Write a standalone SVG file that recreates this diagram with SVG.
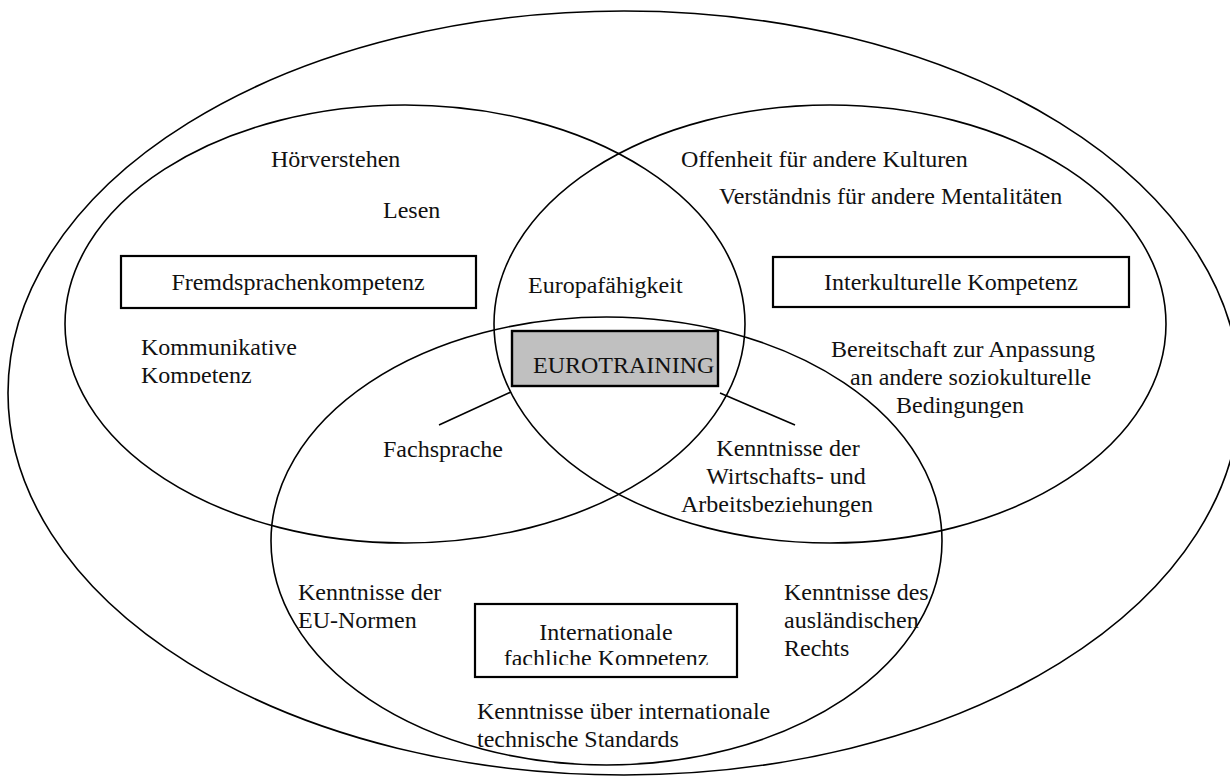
<svg xmlns="http://www.w3.org/2000/svg" width="1230" height="776" viewBox="0 0 1230 776">
<style>
.e{fill:none;stroke:#000;stroke-width:1.6}
.b{fill:#fff;stroke:#000;stroke-width:2.2}
.g{fill:#c0c0c0;stroke:#000;stroke-width:2.4}
text{font-family:"Liberation Serif","Times New Roman",serif;font-size:24px;fill:#111}
.c{text-anchor:middle}
.l{stroke:#000;stroke-width:1.6}
</style>
<defs>
<clipPath id="clipK"><rect x="100" y="330" width="250" height="53"/></clipPath>
<clipPath id="clipI"><rect x="476" y="605" width="260" height="60"/></clipPath>
</defs>
<rect width="1230" height="776" fill="#fff"/>
<g id="outer"><ellipse class="e" cx="624" cy="393" rx="616" ry="382"/></g>
<g id="fremdsprachen">
<ellipse class="e" cx="405" cy="324" rx="340" ry="219"/>
<text x="271" y="167">Hörverstehen</text>
<text x="383" y="218">Lesen</text>
<rect class="b" x="121" y="256" width="355" height="52"/>
<text class="c" x="298" y="290">Fremdsprachenkompetenz</text>
<g clip-path="url(#clipK)"><text x="141" y="355">Kommunikative</text><text x="141" y="383">Kompetenz</text></g>
</g>
<g id="interkulturell">
<ellipse class="e" cx="830" cy="324" rx="336" ry="219"/>
<text x="681" y="167">Offenheit für andere Kulturen</text>
<text x="719" y="204">Verständnis für andere Mentalitäten</text>
<rect class="b" x="773" y="257" width="356" height="50"/>
<text class="c" x="951" y="290">Interkulturelle Kompetenz</text>
<text x="831" y="357">Bereitschaft zur Anpassung</text>
<text x="850" y="385">an andere soziokulturelle</text>
<text x="896" y="413">Bedingungen</text>
</g>
<g id="fachlich">
<ellipse class="e" cx="606.5" cy="541" rx="335.5" ry="224"/>
<text x="298" y="600">Kenntnisse der</text>
<text x="298" y="628">EU-Normen</text>
<text x="784" y="600">Kenntnisse des</text>
<text x="784" y="628">ausländischen</text>
<text x="784" y="656">Rechts</text>
<rect class="b" x="475" y="604" width="262" height="73"/>
<g clip-path="url(#clipI)"><text class="c" x="606" y="640">Internationale</text><text class="c" x="606" y="666">fachliche Kompetenz</text></g>
<text x="477" y="719">Kenntnisse über internationale</text>
<text x="477" y="747">technische Standards</text>
</g>
<g id="europa"><text x="528" y="293">Europafähigkeit</text></g>
<g id="eurotraining">
<rect class="g" x="512" y="331" width="206" height="55"/>
<text x="533" y="373">EUROTRAINING</text>
</g>
<g id="fachsprache"><text x="383" y="457">Fachsprache</text></g>
<g id="wirtschaft">
<text class="c" x="788" y="456">Kenntnisse der</text>
<text class="c" x="786" y="484">Wirtschafts- und</text>
<text class="c" x="777" y="512">Arbeitsbeziehungen</text>
</g>
<g id="connectors">
<line class="l" x1="511" y1="392" x2="439" y2="425"/>
<line class="l" x1="720" y1="393" x2="795" y2="425"/>
</g>
</svg>
